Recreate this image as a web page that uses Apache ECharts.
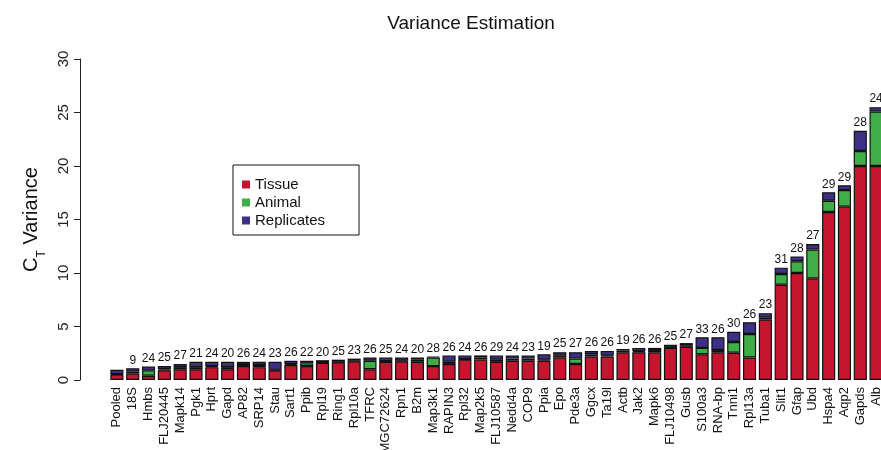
<!DOCTYPE html>
<html>
<head>
<meta charset="utf-8">
<script src="https://cdn.jsdelivr.net/npm/echarts@6/dist/echarts.min.js"></script>
<style>
  html, body { margin: 0; padding: 0; background: #fff; }
  #chart { width: 881px; height: 450px; }
</style>
</head>
<body>
<div id="chart"></div>
<script>
const categories = ['Pooled', '18S', 'Hmbs', 'FLJ20445', 'Mapk14', 'Pgk1', 'Hprt', 'Gapd', 'AP82', 'SRP14',
  'Stau', 'Sart1', 'Ppib', 'Rpl19', 'Ring1', 'Rpl10a', 'TFRC', 'MGC72624', 'Rpn1', 'B2m',
  'Map3k1', 'RAPIN3', 'Rpl32', 'Map2k5', 'FLJ10587', 'Nedd4a', 'COP9', 'Ppia', 'Epo', 'Pde3a',
  'Ggcx', 'Ta19l', 'Actb', 'Jak2', 'Mapk6', 'FLJ10498', 'Gusb', 'S100a3', 'RNA-bp', 'Tnni1',
  'Rpl13a', 'Tuba1', 'Slit1', 'Gfap', 'Ubd', 'Hspa4', 'Aqp2', 'Gapds', 'Alb'];

const tissue = [0.5, 0.6, 0.4, 0.9, 1.0, 1.0, 1.2, 1.0, 1.3, 1.2,
  0.9, 1.4, 1.3, 1.6, 1.65, 1.75, 1.0, 1.7, 1.75, 1.7,
  1.3, 1.5, 1.9, 1.9, 1.7, 1.8, 1.8, 1.8, 2.1, 1.5,
  2.2, 2.2, 2.6, 2.6, 2.6, 3.0, 3.1, 2.4, 2.6, 2.55,
  2.1, 5.65, 8.9, 10.0, 9.5, 15.7, 16.2, 20.0, 20.0];

const animal = [0.05, 0.2, 0.5, 0.1, 0.2, 0.2, 0.1, 0.2, 0.2, 0.2,
  0.05, 0.1, 0.25, 0.05, 0.05, 0.05, 0.8, 0.05, 0.05, 0.2,
  0.8, 0.2, 0.05, 0.2, 0.2, 0.2, 0.2, 0.1, 0.2, 0.5,
  0.2, 0.1, 0.15, 0.1, 0.2, 0.05, 0.15, 0.6, 0.2, 1.0,
  2.2, 0.2, 1.0, 1.1, 2.7, 1.05, 1.55, 1.4, 5.1];

const replicates = [0.4, 0.3, 0.35, 0.3, 0.3, 0.5, 0.4, 0.5, 0.2, 0.3,
  0.75, 0.3, 0.25, 0.2, 0.2, 0.2, 0.3, 0.35, 0.3, 0.2,
  0.1, 0.6, 0.35, 0.2, 0.4, 0.3, 0.3, 0.5, 0.3, 0.6,
  0.3, 0.4, 0.15, 0.3, 0.2, 0.25, 0.2, 1.0, 1.2, 0.95,
  1.1, 0.4, 0.6, 0.45, 0.5, 0.8, 0.45, 1.9, 0.4];

// numbers printed above each bar
const topLabels = ['', 9, 24, 25, 27, 21, 24, 20, 26, 24,
  23, 26, 22, 20, 25, 23, 26, 25, 24, 20,
  28, 26, 24, 26, 29, 24, 23, 19, 25, 27,
  26, 26, 19, 26, 26, 25, 27, 33, 26, 30,
  26, 23, 31, 28, 27, 29, 29, 28, 24];

const yTicks = [0, 30, 5]; // min, max, step

const font = 'Liberation Sans, Arial, Helvetica, sans-serif';

const makeSeries = (name, data, color) => ({
  name: name,
  type: 'bar',
  stack: 'ct',
  data: data,
  barCategoryGap: '17%',
  itemStyle: { color: color, borderColor: '#111', borderWidth: 1.2 }
});

const chart = echarts.init(document.getElementById('chart'));

const seriesList = [
  makeSeries('Tissue', tissue, '#c8152f'),
  makeSeries('Animal', animal, '#3fae49'),
  makeSeries('Replicates', replicates, '#3c3186')
];
seriesList[2].label = {
  show: true,
  position: 'top',
  distance: 2,
  color: '#111',
  fontSize: 12,
  fontFamily: font,
  formatter: p => String(topLabels[p.dataIndex])
};

chart.setOption({
  animation: false,
  textStyle: { fontFamily: font },
  title: {
    text: 'Variance Estimation',
    left: 466,
    textAlign: 'center',
    top: 9,
    textStyle: { fontSize: 19, fontWeight: 'normal', color: '#111', fontFamily: font }
  },
  legend: {
    data: ['Tissue', 'Animal', 'Replicates'],
    orient: 'vertical',
    left: 233,
    top: 165,
    borderColor: '#111',
    borderWidth: 1,
    borderRadius: 0,
    padding: [12, 34, 7, 9],
    itemGap: 3,
    itemWidth: 8,
    itemHeight: 8,
    icon: 'rect',
    itemStyle: { borderWidth: 0 },
    textStyle: { fontSize: 15, color: '#111', fontFamily: font }
  },
  grid: { left: 109, right: -3, top: 59, bottom: 70, outerBoundsMode: 'none', containLabel: false },
  xAxis: {
    type: 'category',
    data: categories,
    axisLine: { show: false },
    axisTick: { show: false },
    axisLabel: { interval: 0, rotate: 90, fontSize: 13, color: '#111', margin: 7, fontFamily: font }
  },
  yAxis: {
    type: 'value',
    min: yTicks[0],
    max: yTicks[1],
    interval: yTicks[2],
    offset: 29,
    name: '{c|C}{s|T}{c| Variance}',
    nameLocation: 'middle',
    nameGap: 36,
    nameRotate: 90,
    nameTextStyle: {
      color: '#111',
      rich: {
        c: { fontSize: 20, color: '#111', fontFamily: font, lineHeight: 24 },
        s: { fontSize: 12, color: '#111', fontFamily: font, verticalAlign: 'bottom', lineHeight: 24, padding: [0, 0, -5, 0] }
      }
    },
    axisLine: { show: true, lineStyle: { color: '#222', width: 1 } },
    axisTick: { show: true, length: 6, lineStyle: { color: '#222' } },
    axisLabel: { rotate: 90, fontSize: 15, color: '#222', margin: 9, fontFamily: font },
    splitLine: { show: false }
  },
  series: seriesList
});
</script>
</body>
</html>
